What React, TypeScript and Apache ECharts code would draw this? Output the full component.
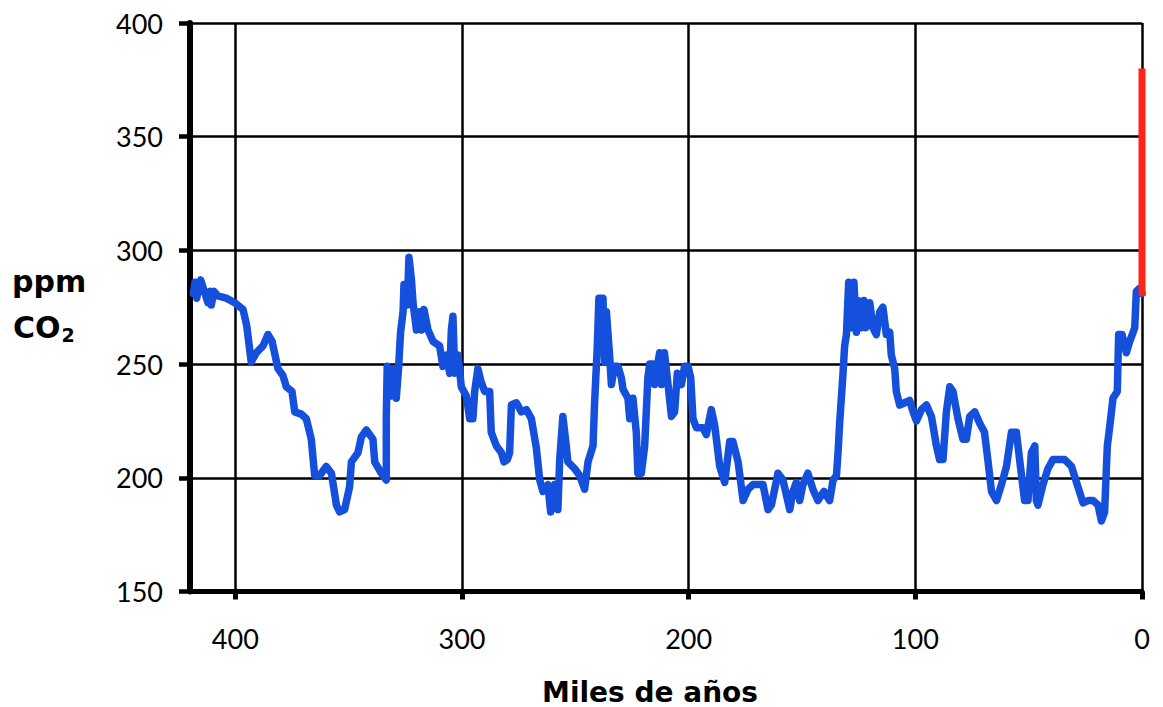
import React, { useEffect, useRef } from "react";
import * as echarts from "echarts";

// Age (thousand years before present) and CO2 (ppm)
const ages = [
  418.5, 417.8, 417, 416, 415.3, 414, 412.1, 411, 410.6, 409.4, 407.7, 404, 400.3, 396.6, 395, 393, 390.7, 387.8,
  385.6, 383.8, 381.2, 379, 377.5, 375, 373.8, 370.9, 368.7, 366.5, 365, 362.8, 359.9, 357.6, 355.4, 354, 351.8,
  349.6, 348.8, 345.9, 344.4, 342.2, 339.3, 338.5, 335.6, 333.4, 333.4, 333, 331.2, 330, 329, 328, 327.1, 326,
  325.6, 324.1, 323.4, 322.3, 321.6, 320.1, 318.7, 317.9, 316.8, 315, 312.8, 309.9, 308.4, 306.9, 305.4, 304.7,
  304, 303.2, 301.8, 300.3, 298.1, 296.6, 295.2, 294.4, 293, 291.5, 290, 287.8, 287.1, 284.8, 282.6, 281.5, 280,
  279, 278.2, 276, 273.8, 271.6, 269.4, 267.2, 265.7, 264.3, 262.1, 260.9, 259.1, 257.7, 256.9, 255.5, 254,
  253.3, 250.3, 248.1, 245.9, 244.4, 242.2, 241.5, 240.3, 239.6, 237.8, 237.1, 236.3, 234.9, 234.1, 232.7, 231.2,
  229.7, 229, 226.8, 226, 224.6, 223.1, 222.4, 220.9, 219.4, 218, 217.2, 215.7, 215, 213.8, 212.8, 212, 210.7,
  209.1, 207.6, 206.2, 205, 203.2, 201.8, 200.3, 199.1, 198.1, 196.6, 193.7, 192.2, 190, 188.5, 186.3, 184.1,
  181.9, 180.5, 178.2, 176, 173.8, 171.6, 167.2, 165, 163.5, 160.6, 158.4, 155.4, 154, 152.5, 151, 149.6, 147.4,
  145.2, 143, 140.3, 137.8, 136.3, 134.8, 134.1, 133.4, 131.9, 131.2, 130.4, 129.4, 128.2, 127.1, 126, 125.3,
  123.8, 122.7, 121.9, 120.1, 118.7, 117.2, 115.7, 114.3, 112.8, 111.3, 110.6, 109.1, 108.4, 106.9, 104.7, 102.5,
  101, 99.5, 97.3, 95.1, 92.9, 90.7, 89.3, 87.8, 86.3, 84.8, 83.4, 81.2, 79, 77.5, 76, 73.8, 71.6, 69.5, 67.9,
  66.4, 64.2, 62, 59.8, 57.6, 55.4, 54, 51.8, 50.3, 48.8, 47.3, 46.6, 45.9, 43.7, 41.5, 39.3, 34.1, 31.1, 28.9,
  26, 23.8, 21.6, 19.4, 17.9, 16.5, 15.3, 14.3, 12.8, 10.9, 10.3, 8.8, 6.9, 5.4, 3.2, 2.5, 1.5, 0,
];

const co2 = [
  281, 286, 279, 285, 287, 283, 277, 282, 276, 282, 280, 279, 277, 274, 267, 251, 255, 258,
  263, 260, 248, 245, 240, 238, 229, 228, 226, 217, 201, 201, 205, 202, 188, 185, 186,
  196, 207, 211, 218, 221, 217, 207, 202, 199, 227, 249, 236, 248, 235, 248, 264, 273,
  285, 276, 297, 287, 277, 265, 273, 265, 274, 265, 260, 258, 249, 254, 246, 265,
  271, 246, 254, 240, 236, 226, 226, 238, 248, 242, 238, 238, 220, 214, 211, 207, 208,
  211, 232, 233, 229, 230, 226, 213, 199, 194, 197, 185, 197, 186, 208, 227, 214,
  207, 204, 201, 195, 207, 214, 233, 258, 279, 279, 251, 273, 254, 241, 249, 249,
  244, 239, 235, 226, 235, 220, 202, 202, 214, 244, 250, 250, 241, 249, 255, 241, 255,
  241, 227, 229, 246, 241, 249, 249, 244, 226, 222, 222, 219, 230, 223, 205, 198,
  216, 216, 207, 190, 195, 197, 197, 186, 188, 202, 199, 186, 194, 198, 190, 197, 202,
  195, 190, 194, 190, 199, 201, 211, 224, 246, 258, 263, 286, 266, 286, 264, 278,
  266, 278, 266, 277, 266, 263, 273, 275, 263, 264, 254, 248, 238, 232, 233, 234,
  229, 225, 230, 232, 227, 214, 208, 208, 229, 240, 238, 226, 217, 217, 227, 229, 224, 220, 207,
  194, 190, 197, 205, 220, 220, 208, 190, 190, 211, 214, 190, 188, 197, 204, 208, 208, 205, 198,
  189, 190, 190, 188, 181, 185, 214, 222, 235, 238, 263, 263, 255, 260, 266, 282, 283, 281,
];

// Modern CO2 (red bar at present day)
const modernAges = [0, 0];
const modernCo2 = [280, 380];

const xTicks = [0, 100, 200, 300, 400];

export default function App() {
  const ref = useRef<HTMLDivElement>(null);

  useEffect(() => {
    if (!ref.current) return;
    const chart = echarts.init(ref.current, null, { renderer: "svg" });
    const labelFont = { fontFamily: "Lato", fontSize: 27, color: "#000" };
    chart.setOption({
      animation: false,
      backgroundColor: "#fff",
      grid: { left: 190, right: 21, top: 23, bottom: 115.5, containLabel: false },
      xAxis: {
        type: "value",
        min: 0,
        max: 420,
        inverse: true,
        axisLine: { show: true, onZero: false, lineStyle: { color: "#000", width: 5 } },
        axisTick: { show: true, length: 8, lineStyle: { color: "#000", width: 5 }, customValues: xTicks },
        axisLabel: { ...labelFont, margin: 33, customValues: xTicks },
        splitLine: { show: true, lineStyle: { color: "#000", width: 2.5 } },
      },
      yAxis: {
        type: "value",
        min: 150,
        max: 400,
        interval: 50,
        axisLine: { show: true, onZero: false, lineStyle: { color: "#000", width: 6 } },
        axisTick: { show: true, length: 11, lineStyle: { color: "#000", width: 4.5 } },
        axisLabel: { ...labelFont, margin: 27 },
        splitLine: { show: true, lineStyle: { color: "#000", width: 2.5 } },
      },
      graphic: [
        {
          type: "text",
          left: 12,
          top: 266,
          style: { text: "ppm", font: "bold 30px 'DejaVu Sans'", fill: "#000" },
        },
        {
          type: "text",
          left: 13,
          top: 312,
          style: {
            text: "CO{sub|2}",
            font: "bold 30px 'DejaVu Sans'",
            fill: "#000",
            rich: { sub: { font: "bold 19px 'DejaVu Sans'", padding: [15, 0, 0, 1], fill: "#000" } },
          },
        },
        {
          type: "text",
          x: 650,
          y: 692,
          style: {
            text: "Miles de años",
            font: "bold 28px 'DejaVu Sans'",
            fill: "#000",
            align: "center",
            verticalAlign: "middle",
          },
        },
      ],
      series: [
        {
          type: "line",
          data: ages.map((a, i) => [a, co2[i]]),
          showSymbol: false,
          lineStyle: { color: "#1450DC", width: 7.5, join: "round", cap: "round" },
          z: 3,
        },
        {
          type: "line",
          data: modernAges.map((a, i) => [a, modernCo2[i]]),
          showSymbol: false,
          lineStyle: { color: "#FF2418", width: 7 },
          z: 4,
        },
      ],
    });
    return () => chart.dispose();
  }, []);

  return (
    <div
      ref={ref}
      style={{ position: "fixed", left: 0, top: 0, width: 1163, height: 707, background: "#fff" }}
    />
  );
}
